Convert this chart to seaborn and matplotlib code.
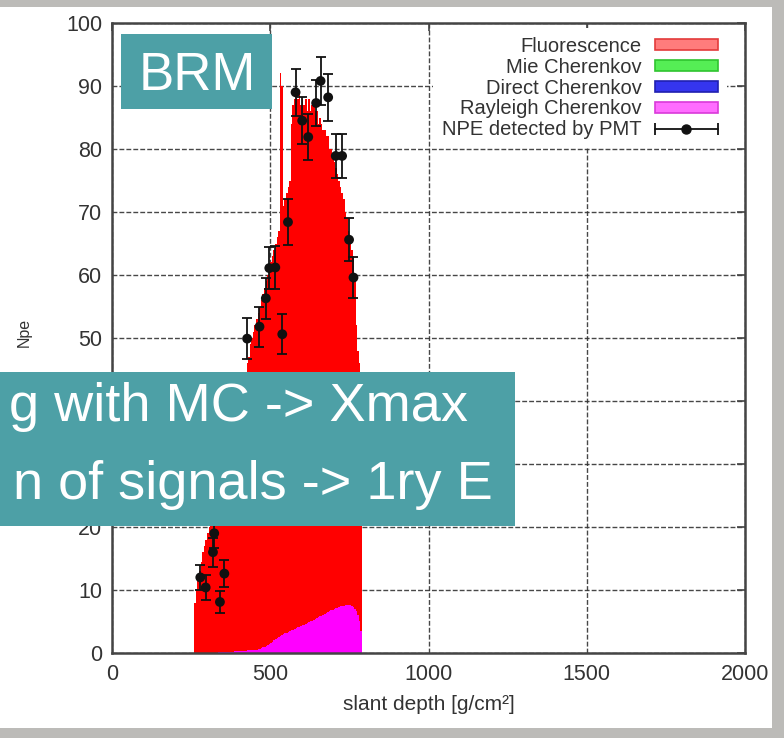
import numpy as np
import pandas as pd
import matplotlib
matplotlib.use("Agg")
import matplotlib.pyplot as plt
import seaborn as sns
from matplotlib.patches import Rectangle, Patch
from matplotlib.lines import Line2D
from matplotlib.legend_handler import HandlerLine2D

# ---------------- data ----------------
# simulated photo-electrons per 5 g/cm2 bin (left edges 260 ... 785)
bin_left = list(range(260, 790, 5))
total_npe = [8, 10, 11.5, 13, 14.5, 16, 17, 18, 19, 20,
             21, 22, 23, 24, 25, 26, 27, 28, 29, 30,
             31, 32, 33, 34, 35, 36, 37, 38, 39.5, 41,
             42, 43, 44.5, 46, 47, 49, 50, 51, 52, 53,
             54, 55, 56, 57, 58, 59, 60, 61, 62, 63,
             64, 65, 66, 67, 92, 90, 71, 72, 73, 74,
             75, 84, 87, 88, 89, 88, 89, 87, 88, 87,
             88, 86, 88, 86, 87, 88, 86, 86, 84, 85,
             84, 83, 83, 82, 82, 80, 80, 79, 78, 77,
             76, 75, 74, 73, 72, 70, 69, 67, 66, 64,
             63, 60, 52, 48, 46, 40]
rayleigh_npe = [0, 0, 0, 0, 0, 0, 0, 0, 0, 0,
                0, 0, 0.05, 0.05, 0.05, 0.1, 0.1, 0.1, 0.1, 0.15,
                0.15, 0.15, 0.2, 0.2, 0.2, 0.25, 0.25, 0.3, 0.3, 0.3,
                0.3, 0.35, 0.35, 0.4, 0.4, 0.4, 0.45, 0.5, 0.5, 0.55,
                0.6, 0.7, 0.8, 0.9, 1.0, 1.15, 1.3, 1.45, 1.6, 1.8,
                2.0, 2.2, 2.4, 2.55, 2.7, 2.85, 3.0, 3.1, 3.2, 3.35,
                3.5, 3.6, 3.7, 3.85, 4.0, 4.1, 4.2, 4.3, 4.4, 4.5,
                4.6, 4.75, 4.9, 5.0, 5.1, 5.25, 5.4, 5.55, 5.7, 5.8,
                5.9, 6.05, 6.2, 6.35, 6.5, 6.65, 6.8, 6.9, 7.0, 7.1,
                7.2, 7.3, 7.4, 7.45, 7.5, 7.55, 7.6, 7.6, 7.6, 7.5,
                7.3, 7.0, 6.6, 6.0, 5.0, 3.5]

# NPE detected by PMT
pmt_x = [279, 296, 319, 323, 341, 355, 427, 466, 486, 497, 516, 538, 556,
         580, 601, 620, 645, 659, 683, 707, 727, 749, 763]
pmt_y = [12.0, 10.4, 16.0, 19.0, 8.1, 12.6, 49.9, 51.8, 56.3, 61.1, 61.2, 50.6, 68.4,
         89.0, 84.5, 81.9, 87.3, 90.8, 88.2, 78.9, 78.9, 65.6, 59.6]
pmt_err = [2.0, 2.0, 2.3, 2.4, 1.8, 2.1, 3.2, 3.2, 3.3, 3.4, 3.4, 3.2, 3.6,
           3.7, 3.7, 3.6, 3.7, 3.8, 3.7, 3.5, 3.5, 3.4, 3.3]

legend_labels = ["Fluorescence", "Mie Cherenkov", "Direct Cherenkov",
                 "Rayleigh Cherenkov", "NPE detected by PMT"]
x_ticks = [0, 500, 1000, 1500, 2000]
y_ticks = list(range(0, 101, 10))

# ---------------- style ----------------
sns.set_style("white")
plt.rcParams["font.family"] = ["Liberation Sans", "DejaVu Sans"]

W, H = 784, 738
def fx(px):
    return px / W
def fy(py):
    return 1 - py / H

fig = plt.figure(figsize=(7.84, 7.38), dpi=100)
fig.patch.set_facecolor("#bcbbb8")
# white slide panel holding the chart
fig.add_artist(Rectangle((0, fy(728)), fx(772), fy(7) - fy(728),
                         transform=fig.transFigure, facecolor="white",
                         edgecolor="none", zorder=-5))

AX_L, AX_R, AX_T, AX_B = 112, 745, 23, 653
ax = fig.add_axes([fx(AX_L), fy(AX_B), fx(AX_R) - fx(AX_L), fy(AX_T) - fy(AX_B)])
ax.set_facecolor("white")

df = pd.DataFrame({"depth": [b + 2.5 for b in bin_left],
                   "total": total_npe, "rayleigh": rayleigh_npe})
brange = (bin_left[0], bin_left[-1] + 5)

sns.histplot(data=df, x="depth", weights="total", binwidth=5, binrange=brange,
             element="step", fill=True, color="#ff0000", alpha=1, linewidth=0,
             ax=ax, zorder=2)
sns.histplot(data=df, x="depth", weights="rayleigh", binwidth=5, binrange=brange,
             element="step", fill=True, color="#ff00ff", alpha=1, linewidth=0,
             ax=ax, zorder=2.1)

ax.errorbar(pmt_x, pmt_y, yerr=pmt_err, fmt="none", ecolor="#111111",
            elinewidth=1.3, capsize=3.8, capthick=1.3, zorder=4)
sns.scatterplot(x=pmt_x, y=pmt_y, color="#111111", s=50, edgecolor="none",
                ax=ax, zorder=5)

ax.set_xlim(0, 2000)
ax.set_ylim(0, 100)
ax.set_xticks(x_ticks)
ax.set_yticks(y_ticks)
ax.set_xlabel("")
ax.set_ylabel("")
ax.set_axisbelow(True)
ax.grid(True, color="#333333", lw=1.0, ls=(0, (3.5, 1.5)), alpha=0.9)
for s in ax.spines.values():
    s.set_visible(True)
    s.set_color("#444444")
    s.set_linewidth(1.8)
ax.tick_params(direction="in", length=6, width=1.2, color="#444444",
               top=True, right=True, labelsize=15.5, labelcolor="#333333")
ax.tick_params(axis="x", pad=8)
ax.tick_params(axis="y", pad=7)

# legend
h_fl = Patch(facecolor="#ff7c7c", edgecolor="#e33b3b", lw=1.2)
h_mie = Patch(facecolor="#55ee55", edgecolor="#2fc42f", lw=1.2)
h_dir = Patch(facecolor="#3535ee", edgecolor="#2020b0", lw=1.2)
h_ray = Patch(facecolor="#ff6cff", edgecolor="#d93ad9", lw=1.2)
caps = Line2D([], [], color="#111111", lw=1.3, marker="|", ms=9, mew=1.3)
dot = Line2D([], [], color="#111111", lw=0, marker="o", ms=6.5)
leg = ax.legend([h_fl, h_mie, h_dir, h_ray, (caps, dot)], legend_labels,
                loc="upper right",
                bbox_to_anchor=((727 - AX_L) / (AX_R - AX_L),
                                (AX_B - 28) / (AX_B - AX_T)),
                markerfirst=False, frameon=True, facecolor="white",
                edgecolor="none", framealpha=1, fancybox=False, fontsize=14.5,
                handlelength=3.15, handleheight=0.45, handletextpad=0.65,
                labelspacing=0.09, borderpad=0.45, borderaxespad=0,
                handler_map={caps: HandlerLine2D(numpoints=2, marker_pad=0),
                             dot: HandlerLine2D(numpoints=1)})
for t in leg.get_texts():
    t.set_color("#333333")
leg.set_zorder(6)

# axis titles
fig.text(fx(429), fy(705), "slant depth [g/cm²]", fontsize=15, color="#333333",
         ha="center", va="center")
fig.text(fx(24), fy(332), "Npe", fontsize=11.5, color="#333333", rotation=90,
         ha="center", va="center")

# slide overlay boxes
teal = "#4da0a6"
fig.add_artist(Rectangle((fx(121), fy(109)), fx(272) - fx(121), fy(34) - fy(109),
                         transform=fig.transFigure, facecolor=teal,
                         edgecolor="none", zorder=7))
fig.text(fx(197), fy(90), "BRM", fontsize=38, color="white", ha="center",
         va="baseline", zorder=8)
fig.add_artist(Rectangle((0, fy(526)), fx(515), fy(372) - fy(526),
                         transform=fig.transFigure, facecolor=teal,
                         edgecolor="none", zorder=7))
fig.text(fx(468), fy(421), "g with MC -> Xmax", fontsize=39, color="white",
         ha="right", va="baseline", zorder=8)
fig.text(fx(493), fy(499), "n of signals -> 1ry E", fontsize=39, color="white",
         ha="right", va="baseline", zorder=8)

fig.savefig("out.png", dpi=100, facecolor=fig.get_facecolor())
